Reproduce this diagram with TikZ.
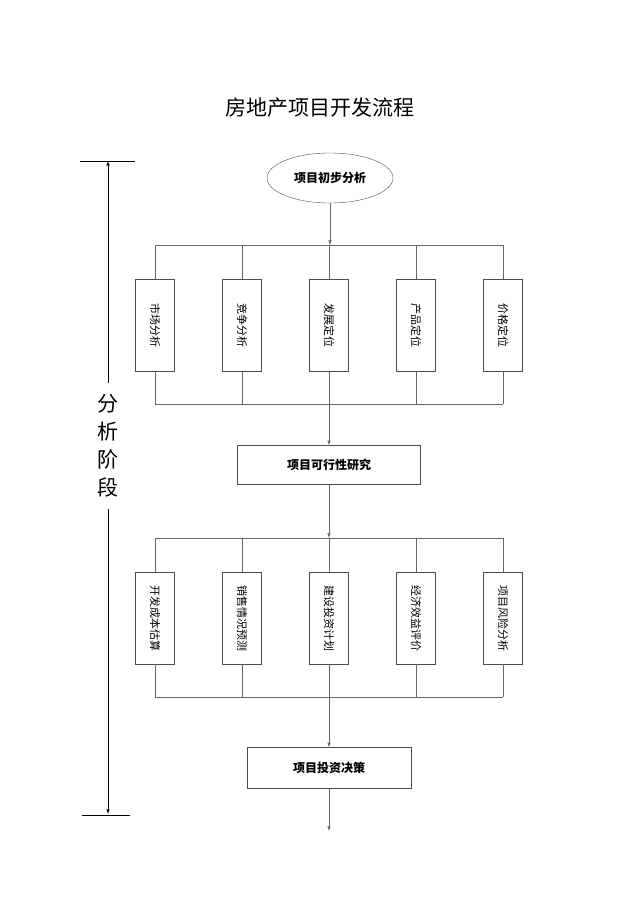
\documentclass[tikz,border=0pt]{standalone}
\usepackage{fontspec}
\setmainfont{Noto Sans CJK SC}
\usetikzlibrary{arrows,positioning,shapes.geometric}
\tikzset{
  line/.style={draw=black!60,line width=0.6pt},
  arr/.style={line,-latex},
  sub/.style={draw=black!70,minimum width=92pt,minimum height=39pt,rotate=-90,font=\fontsize{11}{12}\selectfont,inner sep=1pt},
  main/.style={draw=black!70,font=\bfseries\fontsize{12}{14}\selectfont}
}
\begin{document}
\begin{tikzpicture}[x=1pt,y=-1pt]
\useasboundingbox (0,0) rectangle (640,905);
\node (title) at (320,108) {\fontsize{21}{24}\selectfont 房地产项目开发流程};
% stage marker
\coordinate (top) at (108,161);
\coordinate (bot) at (108,814);
\draw[line,black] (80,161) -- (135,161);
\draw[line,black] (82,815) -- (130,815);
\node[font=\fontsize{21}{24}\selectfont,align=center] (stage) at (108,446) {分\\[4pt]析\\[4pt]阶\\[4pt]段};
\draw[line,black,-latex] (stage.north) ++(0,-8) -- (top);
\draw[line,black,-latex] (stage.south) ++(0,8) -- (bot);
% start
\node[ellipse,main,minimum width=126pt,minimum height=50pt] (start) at (330,178) {项目初步分析};
\coordinate (bus1) at (330,245);
\draw[arr] (start) -- (bus1);
\draw[line] (155,245) -- (503,245);
\draw[line] (155,404) -- (503,404);
\foreach \x/\t/\n in {155/市场分析/a1,242/竞争分析/a2,329/发展定位/a3,416/产品定位/a4,503/价格定位/a5}{
  \node[sub] (\n) at (\x,325) {\t};
  \draw[line] (\x,245) -- (\n.west);
  \draw[line] (\n.east) -- (\x,404);
}
\node[main,minimum width=183pt,minimum height=39pt] (study) at (329,465) {项目可行性研究};
\draw[arr] (a3.east) -- (study);
\coordinate (bus2) at (329,538);
\draw[arr] (study) -- (bus2);
\draw[line] (155,538) -- (503,538);
\draw[line] (155,697) -- (503,697);
\foreach \x/\t/\n in {155/开发成本估算/b1,242/销售情况预测/b2,329/建设投资计划/b3,416/经济效益评价/b4,503/项目风险分析/b5}{
  \node[sub] (\n) at (\x,618) {\t};
  \draw[line] (\x,538) -- (\n.west);
  \draw[line] (\n.east) -- (\x,697);
}
\node[main,minimum width=164pt,minimum height=41pt] (decide) at (329,768) {项目投资决策};
\draw[arr] (b3.east) -- (decide);
\coordinate (out) at (329,831);
\draw[arr] (decide) -- (out);
\end{tikzpicture}
\end{document}
